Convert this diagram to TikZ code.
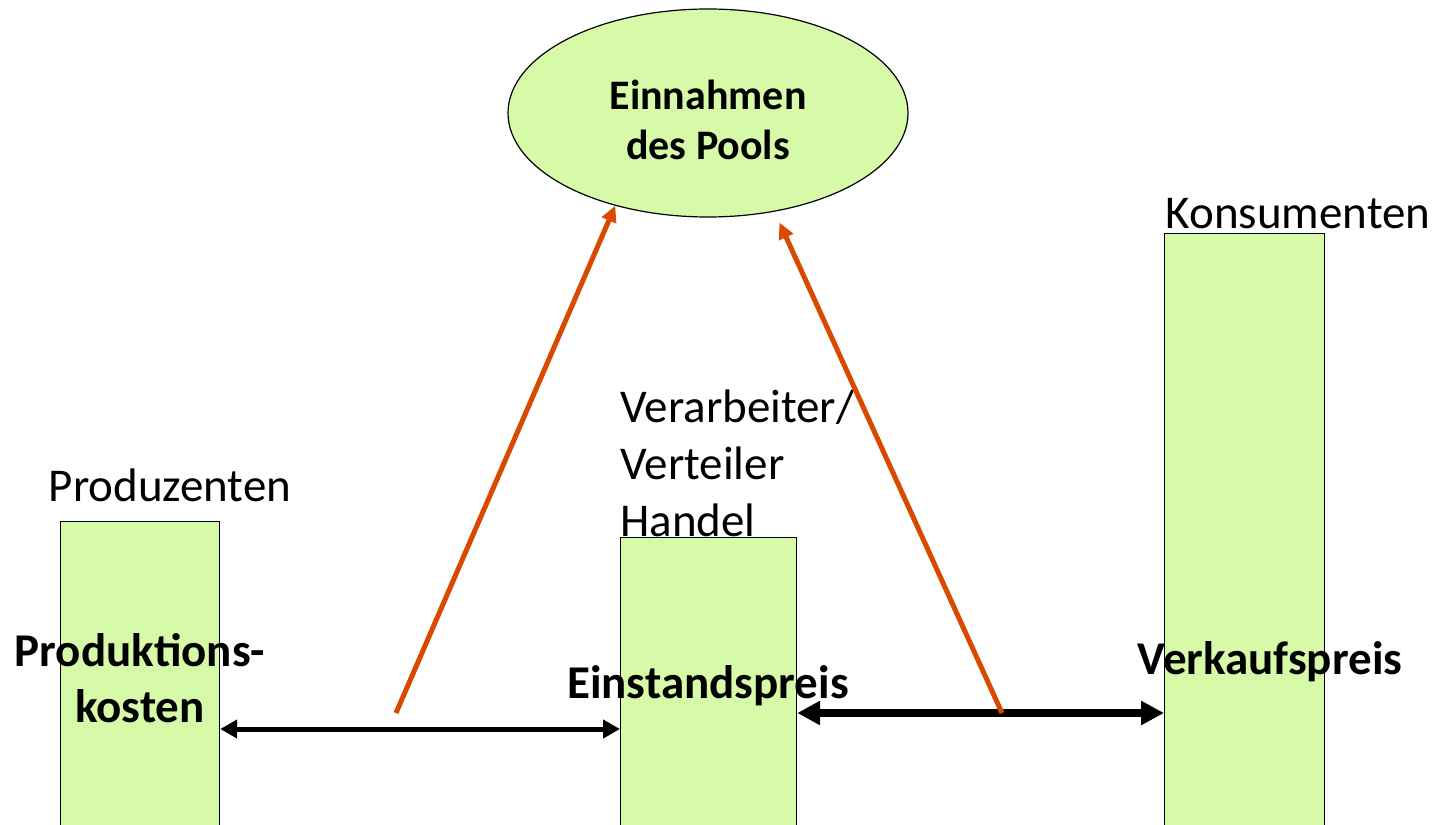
\documentclass[tikz,border=0pt]{standalone}
\usepackage{fontspec}
\setmainfont{Carlito}
\usetikzlibrary{arrows.meta,shapes.geometric}
\definecolor{barGreen}{RGB}{214,250,168}
\definecolor{poolOrange}{RGB}{217,74,0}

\begin{document}
\begin{tikzpicture}[x=0.5pt, y=-0.5pt,
  bar/.style={draw, fill=barGreen, line width=0.6pt, anchor=north west,
              minimum height=320pt, inner sep=0},
  lbl/.style={font=\fontsize{23.5}{28.5}\selectfont, inner sep=0},
  big/.style={font=\fontsize{23.5}{28}\selectfont\bfseries, inner sep=0, align=center},
  price/.style={line width=2.5pt, {Triangle[length=8.5pt,width=9pt]}-{Triangle[length=8.5pt,width=9pt]}},
  flow/.style={draw=poolOrange, line width=2.5pt, -{Triangle[length=8pt,width=7.5pt]}}]

\useasboundingbox (0,0) rectangle (1439,824);
\clip (0,0) rectangle (1439,824);

\node[bar, minimum width=79.5pt] (prod) at (60,521) {};
\node[bar, minimum width=88pt] (verarb) at (620,537) {};
\node[bar, minimum width=80pt] (kons) at (1164,233) {};

\node[ellipse, draw, fill=barGreen, line width=0.6pt, minimum width=200pt, minimum height=104pt,
      inner sep=0, align=center, font=\fontsize{21}{25}\selectfont\bfseries]
     (pool) at (708,113) {\rule{0pt}{22pt}Einnahmen\\des Pools};

\node[lbl] (prodlbl) at (170,485) {Produzenten};
\node[lbl, anchor=west, align=left] (verlbl) at (620,463) {Verarbeiter/\\Verteiler\\Handel};
\node[lbl] (konslbl) at (1298,214) {Konsumenten};

\node[big] (kosten) at (140,678) {Produktions-\\kosten};
\node[big] (einstand) at (708,686) {Einstandspreis};
\node[big] (verkauf) at (1270,662) {Verkaufspreis};

\coordinate (lowline) at (0,729);
\coordinate (highline) at (0,713);
\draw[price] (prod.east |- lowline) -- (verarb.west |- lowline);
\draw[price, line width=4pt, {Triangle[length=11.5pt,width=11.5pt]}-{Triangle[length=11.5pt,width=11.5pt]}]
  (verarb.east |- highline) -- (kons.west |- highline);

\coordinate (start1) at (396,713);
\coordinate (start2) at (1002,713);
\draw[flow] (start1) -- (pool.225);
\draw[flow, shorten >=6pt] (start2) -- (pool.304);

\end{tikzpicture}
\end{document}
